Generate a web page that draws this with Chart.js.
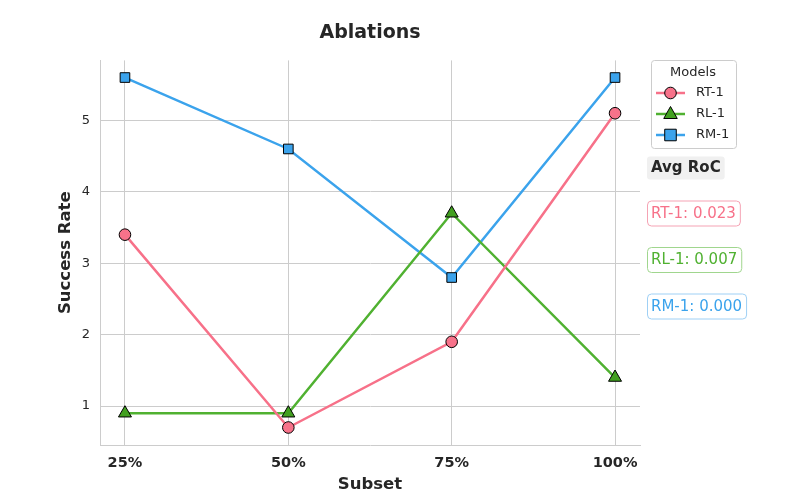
<!DOCTYPE html>
<html><head><meta charset="utf-8">
<script src="https://cdn.jsdelivr.net/npm/chart.js@4/dist/chart.umd.min.js"></script>
<style>html,body{margin:0;padding:0;background:#fff}#w{width:800px;height:500px}</style>
</head><body><div id="w"><canvas id="c" width="800" height="500"></canvas></div>
<script>
const subsets = [25, 50, 75, 100];
const subsetLabels = ["25%", "50%", "75%", "100%"];
const rt1 = [3.4, 0.7, 1.9, 5.1];
const rl1 = [0.9, 0.9, 3.7, 1.4];
const rm1 = [5.6, 4.6, 2.8, 5.6];
const yTicks = [1, 2, 3, 4, 5];
const rocLabels = ["RT-1: 0.023", "RL-1: 0.007", "RM-1: 0.000"];

const FONT = "'DejaVu Sans', sans-serif";
const series = [
  {name: "RT-1", data: rt1, line: "#f77189", fill: "#f7728a", style: "circle", r: 5.8, border: "#f5a3b4"},
  {name: "RL-1", data: rl1, line: "#50b131", fill: "#42a020", style: "triangle", r: 7.5, border: "#a0d68e"},
  {name: "RM-1", data: rm1, line: "#3ba3ec", fill: "#3ba3ec", style: "rect", r: 6.8, border: "#9fd0f5"}
];

const datasets = series.map(s => ({
  label: s.name,
  data: subsets.map((x, i) => ({x: x, y: s.data[i]})),
  borderColor: s.line,
  backgroundColor: s.fill,
  borderWidth: 2.5,
  pointStyle: s.style,
  pointRadius: s.r,
  pointHoverRadius: s.r,
  pointBackgroundColor: s.fill,
  pointBorderColor: "#000",
  pointBorderWidth: 1,
  tension: 0
}));

function drawMarker(ctx, style, x, y, r, fill) {
  ctx.save();
  ctx.fillStyle = fill; ctx.strokeStyle = "#000"; ctx.lineWidth = 1;
  ctx.beginPath();
  if (style === "circle") ctx.arc(x, y, r, 0, Math.PI * 2);
  else if (style === "rect") ctx.rect(x - r * 0.85, y - r * 0.85, r * 1.7, r * 1.7);
  else { ctx.moveTo(x, y - r); ctx.lineTo(x + r * 0.9, y + r * 0.6); ctx.lineTo(x - r * 0.9, y + r * 0.6); ctx.closePath(); }
  ctx.fill(); ctx.stroke();
  ctx.restore();
}
function roundRect(ctx, x, y, w, h, r) {
  ctx.beginPath();
  ctx.moveTo(x + r, y); ctx.lineTo(x + w - r, y); ctx.quadraticCurveTo(x + w, y, x + w, y + r);
  ctx.lineTo(x + w, y + h - r); ctx.quadraticCurveTo(x + w, y + h, x + w - r, y + h);
  ctx.lineTo(x + r, y + h); ctx.quadraticCurveTo(x, y + h, x, y + h - r);
  ctx.lineTo(x, y + r); ctx.quadraticCurveTo(x, y, x + r, y); ctx.closePath();
}

const sidePlugin = {
  id: "side",
  afterDraw(chart) {
    const ctx = chart.ctx;
    ctx.save();
    roundRect(ctx, 651.5, 60.5, 85, 88, 3);
    ctx.fillStyle = "#fff"; ctx.fill();
    ctx.strokeStyle = "#cccccc"; ctx.lineWidth = 1; ctx.stroke();
    ctx.fillStyle = "#262626"; ctx.textBaseline = "middle";
    ctx.font = "13px " + FONT; ctx.textAlign = "center";
    ctx.fillText("Models", 693, 73);
    ctx.textAlign = "left";
    series.forEach((s, i) => {
      const y = 93 + i * 21;
      ctx.strokeStyle = s.line; ctx.lineWidth = 2.5;
      ctx.beginPath(); ctx.moveTo(656, y); ctx.lineTo(685, y); ctx.stroke();
      drawMarker(ctx, s.style, 670.5, y, s.r, s.fill);
      ctx.fillStyle = "#262626"; ctx.font = "13px " + FONT;
      ctx.fillText(s.name, 696, y);
    });
    ctx.font = "bold 15px " + FONT;
    const hw = ctx.measureText("Avg RoC").width;
    roundRect(ctx, 647, 156.5, hw + 8, 23, 3);
    ctx.fillStyle = "#f0f0f0"; ctx.fill();
    ctx.fillStyle = "#262626"; ctx.fillText("Avg RoC", 651, 168);
    ctx.font = "15px " + FONT;
    series.forEach((s, i) => {
      const y = 213.5 + i * 46.5;
      const w = ctx.measureText(rocLabels[i]).width;
      roundRect(ctx, 647.5, y - 12.5, w + 8, 25, 4);
      ctx.fillStyle = "#fff"; ctx.fill();
      ctx.strokeStyle = s.border; ctx.lineWidth = 1; ctx.stroke();
      ctx.fillStyle = s.line; ctx.fillText(rocLabels[i], 651, y + 0.5);
    });
    ctx.restore();
  }
};

new Chart(document.getElementById("c"), {
  type: "line",
  data: {datasets},
  plugins: [sidePlugin],
  options: {
    responsive: false,
    animation: false,
    layout: {padding: {left: 0, right: 160, top: 0, bottom: 0}},
    plugins: {
      legend: {display: false},
      tooltip: {enabled: false},
      title: {display: true, text: "Ablations", fullSize: false, color: "#262626",
        font: {family: FONT, size: 19, weight: "bold"}, padding: {top: 22, bottom: 15.6}}
    },
    scales: {
      x: {
        type: "linear", min: 21.18, max: 103.82,
        afterBuildTicks: ax => { ax.ticks = subsets.map(v => ({value: v})); },
        ticks: {callback: (v) => subsetLabels[subsets.indexOf(v)] || "", color: "#262626",
          font: {family: FONT, size: 14.5, weight: "bold"}, padding: 10, maxRotation: 0},
        grid: {color: "#cccccc", lineWidth: 1, drawTicks: false},
        border: {color: "#cccccc", width: 1},
        afterFit: ax => { ax.height = 55; },
        title: {display: true, text: "Subset", color: "#262626",
          font: {family: FONT, size: 16.5, weight: "bold"}, padding: {top: 2, bottom: 5}}
      },
      y: {
        type: "linear", min: 0.455, max: 5.84,
        afterBuildTicks: ax => { ax.ticks = yTicks.map(v => ({value: v})); },
        ticks: {color: "#262626", font: {family: FONT, size: 13}, padding: 10},
        grid: {color: "#cccccc", lineWidth: 1, drawTicks: false},
        border: {color: "#cccccc", width: 1},
        afterFit: ax => { ax.width = 100; },
        title: {display: true, text: "Success Rate", color: "#262626",
          font: {family: FONT, size: 16.5, weight: "bold"}, padding: {top: 56, bottom: 0}}
      }
    }
  }
});
</script></body></html>
